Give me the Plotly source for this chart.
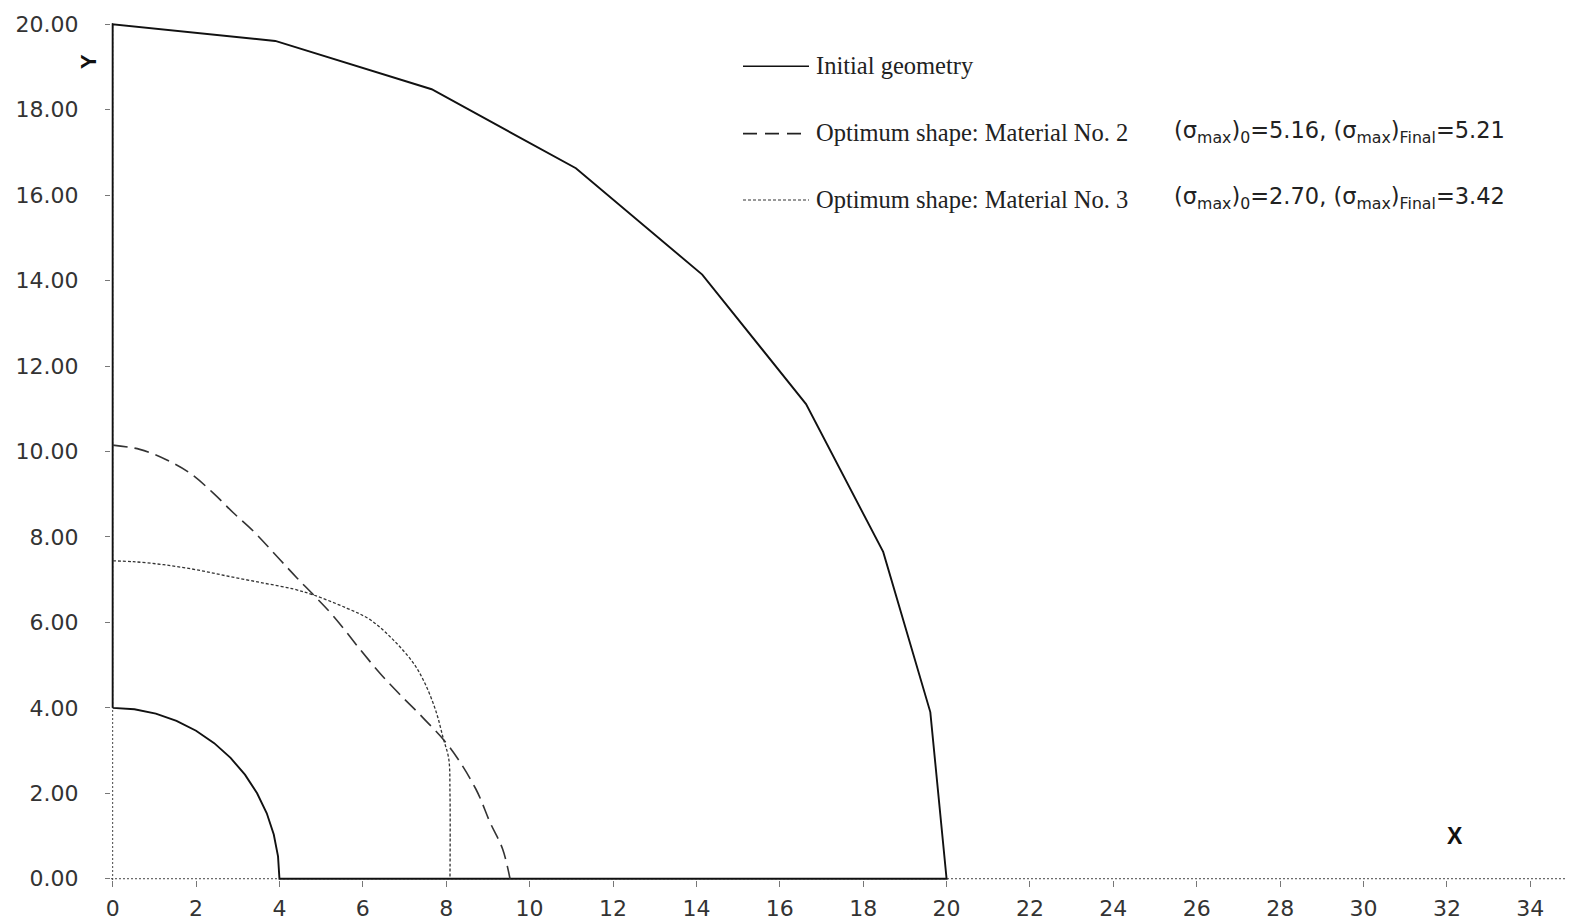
import plotly.graph_objects as go

# ---- data ----
# Initial geometry: inner arc (r=4) + outer boundary polygon (r=20), closed region
init_outer_x = [0.00, 3.90, 7.65, 11.11, 14.14, 16.63, 18.48, 19.61, 20.00]
init_outer_y = [20.00, 19.61, 18.48, 16.63, 14.14, 11.11, 7.65, 3.90, 0.00]
init_inner_x = [4.00, 3.966, 3.864, 3.696, 3.464, 3.173, 2.828, 2.435, 2.00, 1.531, 1.035, 0.522, 0.00]
init_inner_y = [0.00, 0.522, 1.035, 1.531, 2.00, 2.435, 2.828, 3.173, 3.464, 3.696, 3.864, 3.966, 4.00]

# Optimum shape: Material No. 2 (dashed)
mat2_x = [0.00, 0.65, 1.30, 1.86, 2.42, 2.90, 3.38, 4.02, 4.42, 4.82, 5.30, 5.94, 6.41, 6.89, 7.45, 8.08, 8.71, 9.05, 9.35, 9.53]
mat2_y = [10.15, 10.05, 9.80, 9.49, 9.02, 8.56, 8.13, 7.46, 7.04, 6.64, 6.14, 5.36, 4.81, 4.31, 3.76, 3.08, 2.10, 1.32, 0.70, 0.00]

# Optimum shape: Material No. 3 (dotted)
mat3_x = [0.00, 0.50, 1.22, 2.02, 2.82, 3.62, 4.34, 4.82, 5.62, 6.18, 6.73, 7.21, 7.50, 7.76, 7.93, 8.06, 8.09, 8.09]
mat3_y = [7.44, 7.42, 7.35, 7.23, 7.07, 6.92, 6.78, 6.64, 6.33, 6.06, 5.59, 5.05, 4.55, 3.90, 3.28, 2.81, 2.00, 0.00]

x_ticks = list(range(0, 36, 2))
x_ticklabels = [str(v) for v in x_ticks]
y_ticks = list(range(0, 21, 2))
y_ticklabels = ["%.2f" % v for v in y_ticks]

legend_names = ["Initial geometry",
                "Optimum shape: Material No. 2",
                "Optimum shape: Material No. 3"]
stress_texts = ["",
                "(σ<sub>max</sub>)<sub>0</sub>=5.16, (σ<sub>max</sub>)<sub>Final</sub>=5.21",
                "(σ<sub>max</sub>)<sub>0</sub>=2.70, (σ<sub>max</sub>)<sub>Final</sub>=3.42"]

# closed initial geometry path: y-axis up, outer boundary, x-axis back, inner arc
init_x = [0.00] + init_outer_x + init_inner_x
init_y = [4.00] + init_outer_y + init_inner_y

fig = go.Figure()
fig.add_trace(go.Scatter(x=init_x, y=init_y, mode="lines", name=legend_names[0],
                         line=dict(color="#111111", width=1.9), showlegend=False))
fig.add_trace(go.Scatter(x=mat2_x, y=mat2_y, mode="lines", name=legend_names[1],
                         line=dict(color="#333333", width=1.6, dash="15px,7px"),
                         line_shape="spline", showlegend=False))
fig.add_trace(go.Scatter(x=mat3_x, y=mat3_y, mode="lines", name=legend_names[2],
                         line=dict(color="#333333", width=1.3, dash="3px,2px"),
                         line_shape="spline", showlegend=False))

# page offset: the html body has an 8px margin, so the figure is made 8px smaller
OFF = 8
W, H = 1575 - OFF, 922 - OFF
L, R, T, B = 111 - OFF, 3, 23 - OFF, 42
pw, ph = W - L - R, H - T - B

def px(xpix):  # page pixel -> paper
    return (xpix - OFF - L) / pw

def py(ypix):
    return (H - B - (ypix - OFF)) / ph

shapes = []
# dotted axis lines
shapes.append(dict(type="line", xref="paper", yref="y", x0=0, x1=1, y0=0, y1=0,
                   line=dict(color="#444444", width=1, dash="2px,2px"), layer="below"))
shapes.append(dict(type="line", xref="x", yref="paper", x0=0, x1=0, y0=0, y1=1,
                   line=dict(color="#444444", width=1, dash="2px,2px"), layer="below"))

# manual legend
row_y = [66.3, 133.6, 200.0]
line_styles = [dict(color="#111111", width=1.6),
               dict(color="#222222", width=1.6, dash="14px,8px"),
               dict(color="#333333", width=1.2, dash="3px,2px")]
annotations = []
for i in range(3):
    shapes.append(dict(type="line", xref="paper", yref="paper",
                       x0=px(743), x1=px(809), y0=py(row_y[i]), y1=py(row_y[i]),
                       line=line_styles[i]))
    annotations.append(dict(xref="paper", yref="paper", x=px(814), y=py(row_y[i] - 1),
                            text=legend_names[i], showarrow=False, xanchor="left", yanchor="middle",
                            font=dict(family="Liberation Serif", size=24.5, color="#222222")))
    if stress_texts[i]:
        annotations.append(dict(xref="paper", yref="paper", x=px(1172), y=py(row_y[i] - 2),
                                text=stress_texts[i], showarrow=False, xanchor="left", yanchor="middle",
                                font=dict(family="DejaVu Sans", size=22.5, color="#222222")))

# axis letters
annotations.append(dict(xref="paper", yref="paper", x=px(89), y=py(62), text="<b>Y</b>",
                        textangle=-90, showarrow=False, xanchor="center", yanchor="middle",
                        font=dict(family="Liberation Sans", size=22, color="#111111")))
annotations.append(dict(xref="paper", yref="paper", x=px(1455), y=py(836), text="<b>X</b>",
                        showarrow=False, xanchor="center", yanchor="middle",
                        font=dict(family="Liberation Sans", size=23, color="#111111")))

tickfont = dict(family="DejaVu Sans", size=22, color="#333333")
fig.update_layout(
    width=W, height=H,
    margin=dict(l=L, r=R, t=T, b=B, autoexpand=False),
    paper_bgcolor="white", plot_bgcolor="white",
    shapes=shapes, annotations=annotations,
    xaxis=dict(range=[-0.04, 35.0], tickvals=x_ticks, ticktext=x_ticklabels,
               showgrid=False, zeroline=False, showline=False, automargin=False,
               ticks="outside", ticklen=6, tickwidth=1, tickcolor="#777777",
               ticklabelstandoff=3, tickfont=tickfont),
    yaxis=dict(range=[-0.03, 20.03], tickvals=y_ticks, ticktext=y_ticklabels,
               showgrid=False, zeroline=False, showline=False, automargin=False,
               ticks="outside", ticklen=5, tickwidth=1, tickcolor="#777777",
               ticklabelstandoff=22, tickfont=tickfont),
)

fig.write_html("out.html")
